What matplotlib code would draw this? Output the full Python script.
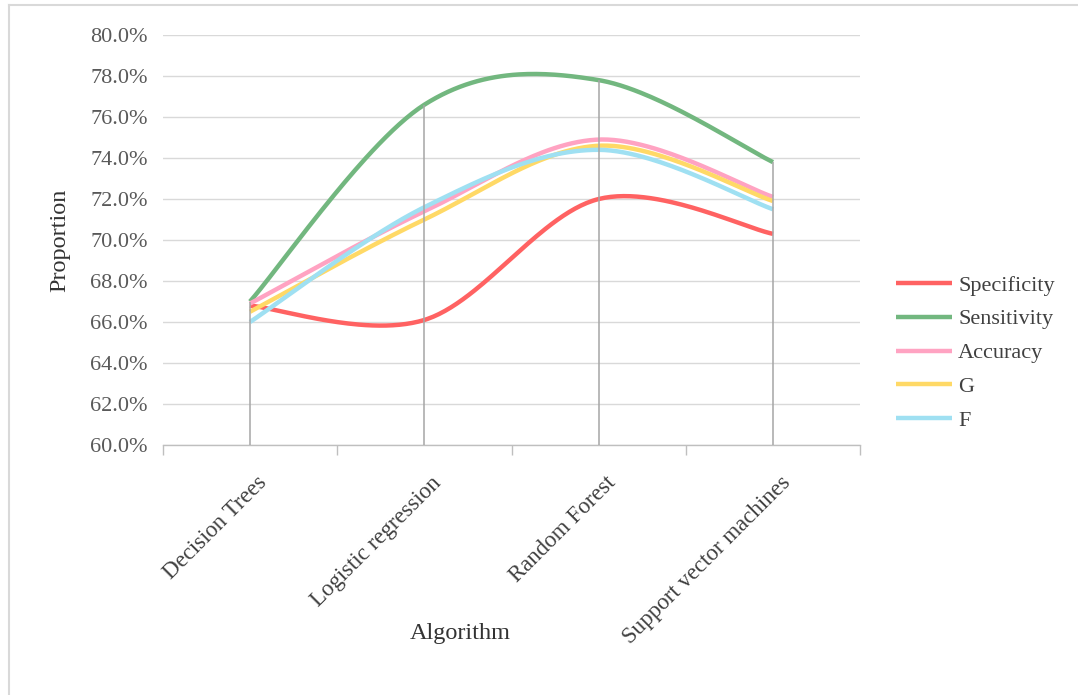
import numpy as np
import matplotlib
matplotlib.use("Agg")
import matplotlib.pyplot as plt
import matplotlib.transforms as mtransforms
from matplotlib.lines import Line2D

# values (proportions, %)
algorithms = ["Decision Trees", "Logistic regression", "Random Forest", "Support vector machines"]
specificity = [66.8, 66.1, 72.0, 70.3]
sensitivity = [67.0, 76.6, 77.8, 73.8]
accuracy = [66.9, 71.4, 74.9, 72.1]
g_score = [66.5, 71.0, 74.6, 71.9]
f_score = [66.0, 71.6, 74.4, 71.5]

series_names = ["Specificity", "Sensitivity", "Accuracy", "G", "F"]
series_colors = ["#FF6262", "#72B77F", "#FFA3C2", "#FFD966", "#9FE0F2"]

SERIF = "Liberation Serif"


def smooth(xs, ys, n=60):
    """Excel style smoothed line (Catmull-Rom as cubic bezier)"""
    xs = np.asarray(xs, float)
    ys = np.asarray(ys, float)
    px = np.concatenate([[xs[0]], xs, [xs[-1]]])
    py = np.concatenate([[ys[0]], ys, [ys[-1]]])
    outx, outy = [], []
    t = np.linspace(0, 1, n)
    for i in range(1, len(px) - 2):
        p0 = np.array([px[i], py[i]])
        p3 = np.array([px[i + 1], py[i + 1]])
        c1 = p0 + (np.array([px[i + 1], py[i + 1]]) - np.array([px[i - 1], py[i - 1]])) / 6
        c2 = p3 - (np.array([px[i + 2], py[i + 2]]) - np.array([px[i], py[i]])) / 6
        b = ((1 - t) ** 3)[:, None] * p0 + (3 * (1 - t) ** 2 * t)[:, None] * c1 \
            + (3 * (1 - t) * t ** 2)[:, None] * c2 + (t ** 3)[:, None] * p3
        outx.extend(b[:, 0])
        outy.extend(b[:, 1])
    return np.array(outx), np.array(outy)


fig = plt.figure(figsize=(10.78, 6.95), dpi=100)
ax = fig.add_axes([0.151, 0.3597, 0.647, 0.5899])

x = np.arange(len(algorithms))
all_series = [specificity, sensitivity, accuracy, g_score, f_score]

for vals, name, col in zip(all_series, series_names, series_colors):
    sx, sy = smooth(x, vals)
    ax.plot(sx, sy, color=col, lw=3.2, label=name, solid_capstyle="butt", zorder=3)

# drop lines
tops = np.max(np.array(all_series), axis=0)
ax.vlines(x, 60, tops, color="#A6A6A6", lw=1.1, zorder=4)

ax.set_xlim(-0.5, len(algorithms) - 0.5)
ax.set_ylim(60, 80)
ax.set_yticks(np.arange(60, 80.1, 2))
ax.set_yticklabels([f"{v:.1f}%" for v in np.arange(60, 80.1, 2)],
                   fontsize=16, color="#595959", family=SERIF)
ax.grid(axis="y", color="#D9D9D9", lw=1.0)
ax.set_axisbelow(True)
ax.tick_params(axis="y", length=0, pad=11)

for s in ["top", "right", "left"]:
    ax.spines[s].set_visible(False)
ax.spines["bottom"].set_color("#BFBFBF")
ax.spines["bottom"].set_linewidth(1.0)

ax.set_xticks(x)
ax.set_xticks(np.arange(-0.5, len(algorithms)), minor=True)
ax.tick_params(axis="x", which="major", length=0, pad=25)
ax.tick_params(axis="x", which="minor", length=7, color="#BFBFBF", width=1.0)
ax.set_xticklabels(algorithms, rotation=45, ha="right", va="center",
                   rotation_mode="anchor", fontsize=16.5, color="#404040", family=SERIF)
shift = mtransforms.ScaledTranslation(14 / 100, 0, fig.dpi_scale_trans)
for lab in ax.get_xticklabels():
    lab.set_transform(lab.get_transform() + shift)

fig.text(60 / 1078, 1 - 240 / 695, "Proportion", rotation=90, ha="center", va="center",
         fontsize=17.5, color="#333333", family=SERIF)
fig.text(460 / 1078, 1 - 633 / 695, "Algorithm", ha="center", va="center",
         fontsize=17.5, color="#333333", family=SERIF)

leg = ax.legend(loc="center left", bbox_to_anchor=(876 / 1078, 1 - 353 / 695),
                bbox_transform=fig.transFigure, frameon=False,
                handlelength=2.5, handletextpad=0.3, labelspacing=0.6,
                prop={"family": SERIF, "size": 16})
for t in leg.get_texts():
    t.set_color("#404040")

# light outer border (top and left visible)
fig.add_artist(Line2D([9 / 1078, 1.0], [1 - 5 / 695, 1 - 5 / 695], transform=fig.transFigure,
                      color="#D9D9D9", lw=1.5))
fig.add_artist(Line2D([9 / 1078, 9 / 1078], [0.0, 1 - 5 / 695], transform=fig.transFigure,
                      color="#D9D9D9", lw=1.5))

fig.savefig("out.png", dpi=100, facecolor="white")
